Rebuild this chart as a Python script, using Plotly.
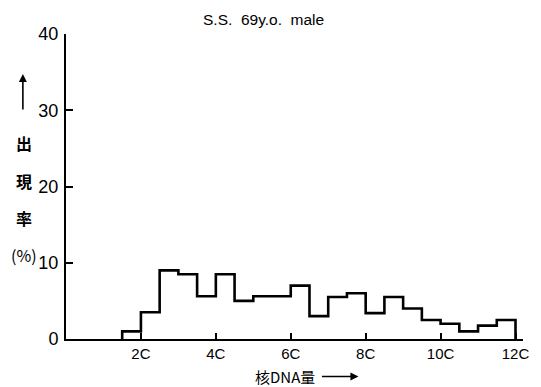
import plotly.graph_objects as go

# histogram bins (in units of C) and frequencies (%)
bin_edges = [1.5 + 0.5 * i for i in range(22)]  # 1.5C ... 12C
freq = [1, 3.5, 9, 8.5, 5.6, 8.5, 5, 5.6, 5.6, 7, 3, 5.5, 6, 3.4, 5.5, 4, 2.5, 2, 1, 1.75, 2.5]

x_tickvals = [2, 4, 6, 8, 10, 12]
x_ticktext = ["2C", "4C", "6C", "8C", "10C", "12C"]
y_tickvals = [0, 10, 20, 30, 40]

title_text = "S.S.&nbsp; 69y.o.&nbsp; male"
x_label = "核DNA量"
y_label_chars = ["出", "現", "率", "(%)"]

# step outline built from the bins
xs = [bin_edges[0]] + bin_edges + [bin_edges[-1]]
ys = [0] + freq + [freq[-1], 0]

W, H = 541, 387
L, R, T, B = 66, 14, 34, 47.5

fig = go.Figure()
fig.add_trace(go.Scatter(x=xs, y=ys, mode="lines", line=dict(color="black", width=2.6, shape="hv"),
                         hoverinfo="skip", showlegend=False))

num_font = dict(family="Liberation Sans Narrow, Liberation Sans, Arial Narrow, sans-serif", size=18, color="black")
cjk = "Noto Sans CJK JP, sans-serif"

fig.update_layout(
    width=W, height=H,
    margin=dict(l=L, r=R, t=T, b=B),
    paper_bgcolor="white", plot_bgcolor="white",
    showlegend=False,
    xaxis=dict(range=[0, 12.2], tickvals=x_tickvals, ticktext=x_ticktext, ticks="inside", ticklen=6,
               tickwidth=1.5, tickcolor="black", showline=True, linecolor="black", linewidth=2,
               showgrid=False, zeroline=False, tickfont=dict(family="Liberation Sans, Arial, sans-serif", size=15, color="black")),
    yaxis=dict(range=[0, 40], tickvals=y_tickvals, ticks="inside", ticklen=7, tickwidth=1.5,
               tickcolor="black", showline=True, linecolor="black", linewidth=2, showgrid=False,
               zeroline=False, tickfont=num_font, ticklabelstandoff=2),
)

def px_to_paper_x(px):
    return (px - L) / (W - L - R)

def px_to_paper_y(py):
    return (H - B - py) / (H - T - B)

ann = []
ann.append(dict(text=title_text, x=px_to_paper_x(265.5), y=px_to_paper_y(19), xref="paper", yref="paper",
                showarrow=False, font=dict(family="Liberation Sans, Arial, sans-serif", size=15.5, color="black"),
                xanchor="center", yanchor="middle"))
# y label: arrow + stacked chars
ann.append(dict(text="", x=px_to_paper_x(22.5), y=px_to_paper_y(74), xref="paper", yref="paper",
                showarrow=True, ax=0, ay=37, arrowhead=2, arrowsize=1.0, arrowwidth=1.6, arrowcolor="black"))
for ch, py in zip(y_label_chars, [143, 181, 218, 255]):
    txt = ch if ch.startswith("(") else "<b>" + ch + "</b>"
    ann.append(dict(text=txt, x=px_to_paper_x(24), y=px_to_paper_y(py), xref="paper", yref="paper",
                    showarrow=False, font=dict(family=cjk, size=16, color="black"),
                    xanchor="center", yanchor="middle"))
# x label + arrow
ann.append(dict(text=x_label, x=px_to_paper_x(287), y=px_to_paper_y(377), xref="paper", yref="paper",
                showarrow=False, font=dict(family=cjk, size=15, color="black"),
                xanchor="center", yanchor="middle"))
ann.append(dict(text="", x=px_to_paper_x(361), y=px_to_paper_y(377), xref="paper", yref="paper",
                showarrow=True, ax=-38, ay=0, arrowhead=2, arrowsize=1.0, arrowwidth=1.6, arrowcolor="black"))
fig.update_layout(annotations=ann)

fig.write_html("out.html", config={"displayModeBar": False})

# remove default page margin so the figure sits at the window's top-left corner
with open("out.html", encoding="utf-8") as f:
    html = f.read()
html = html.replace("<head>", "<head><style>html,body{margin:0;padding:0;overflow:hidden;}</style>", 1)
with open("out.html", "w", encoding="utf-8") as f:
    f.write(html)
